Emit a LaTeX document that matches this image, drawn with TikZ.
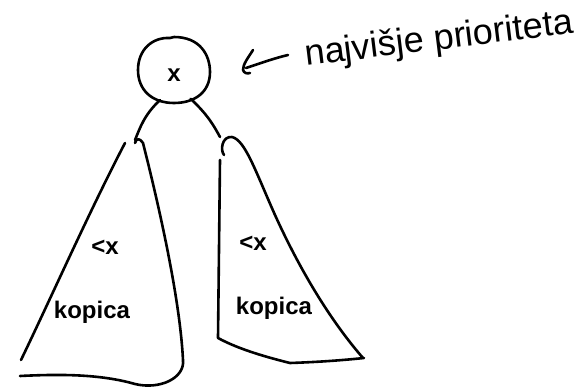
\documentclass[tikz,border=0pt]{standalone}
\usepackage{fontspec}
\setmainfont{Liberation Sans}
\begin{document}
\begin{tikzpicture}[x=1pt,y=-1pt,
  ink/.style={line width=2.6pt,line cap=round,line join=round},
  lbl/.style={font=\fontsize{24}{26}\selectfont\bfseries,inner sep=0pt}]
\useasboundingbox (0,0) rectangle (579,390);
% root
\node[circle,minimum size=66pt,inner sep=0pt] (root) at (174,70) {};
\draw[ink] (174,37) .. controls (200,37) and (210,55) .. (210,72)
  .. controls (210,92) and (195,103) .. (174,103)
  .. controls (152,103) and (138,90) .. (138,70)
  .. controls (138,50) and (152,37) .. (170,38) -- (174,37);
\node[lbl] (x) at (174,75) {x};
% connection points
\coordinate (la) at (135,140);
\coordinate (ra) at (220,137);
\draw[ink] (root.-115) .. controls (144,115) and (140,128) .. (la);
\draw[ink] (root.-60) .. controls (208,115) and (214,126) .. (ra);
% left heap
\draw[ink] (125,143) .. controls (90,210) and (50,300) .. (21,360);
\draw[ink] (20,376) .. controls (60,374) and (100,374) .. (135,384)
  .. controls (160,390) and (185,378) .. (183,360)
  .. controls (180,300) and (160,210) .. (143,143)
  .. controls (140,138) and (136,138) .. (135,143);
% right heap
\draw[ink] (220,160) -- (218,338)
  .. controls (240,350) and (270,358) .. (290,363)
  .. controls (320,362) and (345,360) .. (364,358);
\draw[ink] (363,358) .. controls (330,320) and (300,270) .. (275,215)
  .. controls (255,170) and (245,140) .. (232,137)
  .. controls (222,136) and (220,150) .. (224,155);
% labels
\node[lbl] (l1) at (105,247) {<x};
\node[lbl] (l2) at (92,312) {kopica};
\node[lbl] (r1) at (253,243) {<x};
\node[lbl] (r2) at (274,308) {kopica};
% annotation
\coordinate (ah) at (243,70);
\coordinate (at) at (288,55);
\draw[ink] (at) .. controls (275,58) and (258,64) .. (246,68);
\draw[ink] (253,50) .. controls (248,58) and (243,64) .. (ah)
  .. controls (244,73) and (247,74) .. (250,73);
\node[lbl,font=\fontsize{36}{38}\selectfont,rotate=7,anchor=base west] (note) at (306,66) {najvišje prioriteta};
\end{tikzpicture}
\end{document}
